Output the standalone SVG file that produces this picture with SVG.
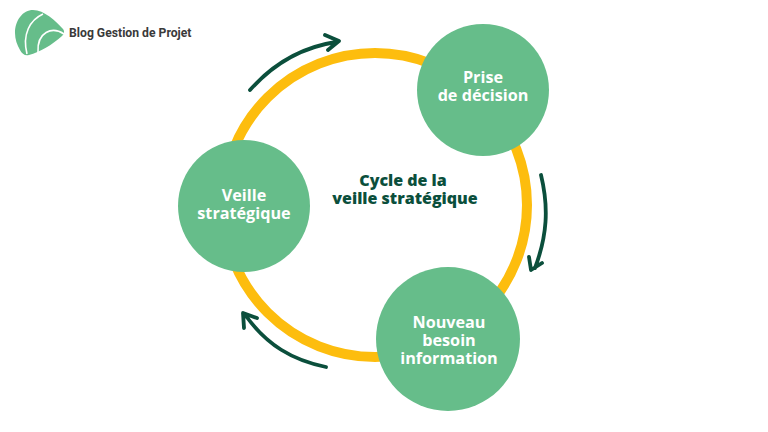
<svg xmlns="http://www.w3.org/2000/svg" width="768" height="432" viewBox="0 0 768 432">
<style>
.node{fill:#66bd8a}
.nt{font-family:"Open Sans","Noto Sans",sans-serif;font-weight:700;font-size:16.2px;fill:#fff;text-anchor:middle}
.ct{font-family:"Open Sans","Noto Sans",sans-serif;font-weight:800;font-size:16px;fill:#0b4f3c;text-anchor:middle}
.arr{fill:none;stroke:#0b4f3c;stroke-width:3.8;stroke-linecap:round;stroke-linejoin:round}
</style>
<rect width="768" height="432" fill="#fff"/>
<g id="logo">
<path d="M15 33C15 20 23 10 33 10C44 10 56 21 63 29C65 32 64 34 62 36C52 45 40 52 29 55C25 56 22 54 20 50C17 45 15 39 15 33Z" fill="#66bd8a"/>
<path d="M43 14C30 20 22 34 27 54M64 34C52 26 37 32 38 52" fill="none" stroke="#fff" stroke-width="1.6"/>
<text x="69" y="37" font-family="Roboto,'Liberation Sans',sans-serif" font-weight="700" font-size="12.2" fill="#3a3a3a">Blog Gestion de Projet</text>
</g>
<g id="connectors">
<circle cx="375" cy="205" r="152" fill="none" stroke="#fdbd0e" stroke-width="10"/>
<path class="arr" d="M250 90C274 63 303 47 336 42M325 35L339 41L328 50"/>
<path class="arr" d="M541 175C549 208 547 236 535 268M529 257L531 270L542 263"/>
<path class="arr" d="M326 367C292 360 267 345 246 316M244 328L243 313L257 318"/>
</g>
<g id="node-prise"><circle class="node" cx="483" cy="90" r="66"/>
<text class="nt" x="483" y="83">Prise</text><text class="nt" x="483" y="101">de décision</text></g>
<g id="node-veille"><circle class="node" cx="244" cy="206" r="66"/>
<text class="nt" x="244" y="201">Veille</text><text class="nt" x="244" y="219">stratégique</text></g>
<g id="node-nouveau"><circle class="node" cx="448" cy="339" r="72"/>
<text class="nt" x="449" y="328">Nouveau</text><text class="nt" x="449" y="346">besoin</text><text class="nt" x="449" y="364">information</text></g>
<g id="center-label"><text class="ct" x="403" y="186">Cycle de la</text><text class="ct" x="405" y="204">veille stratégique</text></g>
</svg>
